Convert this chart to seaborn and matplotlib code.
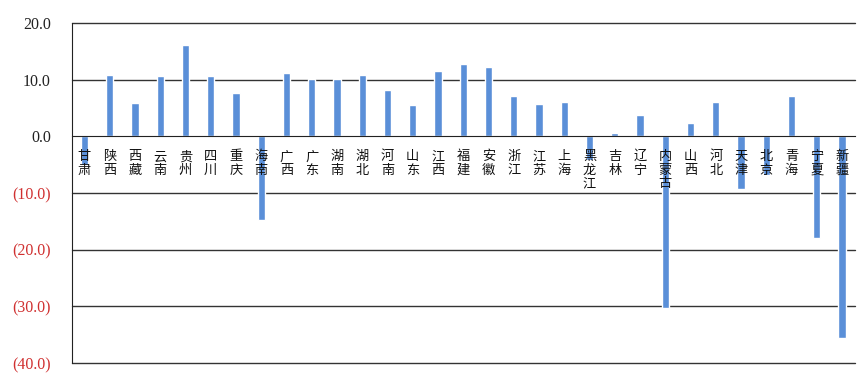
import matplotlib
matplotlib.use('Agg')
import matplotlib.pyplot as plt
import seaborn as sns
import pandas as pd

# ----------
# data
# ----------
provinces = ['甘肃', '陕西', '西藏', '云南', '贵州', '四川', '重庆', '海南',
             '广西', '广东', '湖南', '湖北', '河南', '山东', '江西', '福建',
             '安徽', '浙江', '江苏', '上海', '黑龙江', '吉林', '辽宁', '内蒙古',
             '山西', '河北', '天津', '北京', '青海', '宁夏', '新疆']
values = [-5.0, 10.9, 5.8, 10.6, 16.2, 10.6, 7.6, -14.7,
          11.1, 10.2, 10.2, 10.9, 8.2, 5.5, 11.5, 12.8,
          12.2, 7.1, 5.7, 6.0, -4.1, 0.6, 3.7, -30.2,
          2.3, 6.0, -9.3, -6.9, 7.1, -18.0, -35.6]
yticks = [20, 10, 0, -10, -20, -30, -40]
ylabels = ['20.0', '10.0', '0.0', '(10.0)', '(20.0)', '(30.0)', '(40.0)']

df = pd.DataFrame({'province': provinces, 'value': values})

sns.set_style('white')
plt.rcParams['font.family'] = ['Noto Sans CJK SC', 'DejaVu Sans']

fig = plt.figure(figsize=(8.65, 3.9), dpi=100)
ax = fig.add_axes([0.083, 0.069, 0.905, 0.872])

sns.barplot(data=df, x='province', y='value', color='#5A8FD8',
            width=0.29, saturation=1, ax=ax)

ax.set_ylim(-40, 20)
ax.set_xlim(-0.5, len(provinces) - 0.5)
ax.set_xlabel('')
ax.set_ylabel('')
# labels sit on top of the bars, like in the original
ax.set_axisbelow(False)

# gridlines (the zero line is the moved bottom spine)
for v in yticks:
    if v != 0:
        ax.axhline(v, color='#333333', lw=1.0, zorder=0, clip_on=False)

ax.spines['right'].set_visible(False)
ax.spines['top'].set_visible(False)
ax.spines['left'].set_color('#222222')
ax.spines['bottom'].set_color('#222222')
ax.spines['bottom'].set_position(('data', 0))

# category labels, stacked vertically under the zero line
ax.set_xticks(range(len(provinces)))
ax.set_xticklabels(['\n'.join(p) for p in provinces], fontsize=9.5,
                   linespacing=1.05, va='top', color='#111111')
ax.tick_params(axis='x', which='major', length=0, pad=10)
ax.set_xticks([i + 0.5 for i in range(-1, len(provinces))], minor=True)
ax.tick_params(axis='x', which='minor', length=3, direction='out',
               color='#222222')

ax.set_yticks(yticks)
ax.set_yticklabels(ylabels, fontsize=11.5, family=['Liberation Serif'])
ax.tick_params(axis='y', length=0, pad=15)
for lab, v in zip(ax.get_yticklabels(), yticks):
    lab.set_color('#D03030' if v < 0 else '#222222')

fig.savefig('out.png', dpi=100)
